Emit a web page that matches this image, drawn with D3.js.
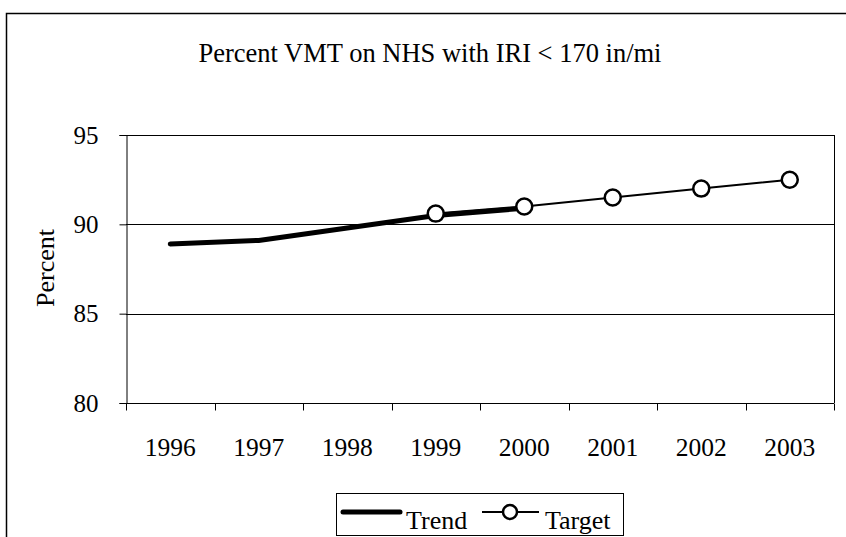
<!DOCTYPE html>
<html>
<head>
<meta charset="utf-8">
<script src="https://cdn.jsdelivr.net/npm/d3@7"></script>
<style>
  body { margin: 0; background: #fff; }
  svg { display: block; }
</style>
</head>
<body>
<script>
const years = ["1996", "1997", "1998", "1999", "2000", "2001", "2002", "2003"];
const trendYears = ["1996", "1997", "1998", "1999", "2000"];
const trendValues = [88.9, 89.1, 89.8, 90.5, 90.9];
const targetYears = ["1999", "2000", "2001", "2002", "2003"];
const targetValues = [90.6, 91.0, 91.5, 92.0, 92.5];
const yTicks = [80, 85, 90, 95];

const serif = "'Liberation Serif', 'Times New Roman', serif";

document.addEventListener("DOMContentLoaded", () => {
  const w = 846;
  const h = 537;

  const svg = d3.select("body")
  .append("svg")
  .attr("width", w)
  .attr("height", h)
  .attr("font-family", serif);

  // outer chart frame (runs past right and bottom edges)
  svg.append("rect")
  .attr("x", 6.5)
  .attr("y", 13.5)
  .attr("width", 900)
  .attr("height", 600)
  .attr("fill", "none")
  .attr("stroke", "#000")
  .attr("stroke-width", 1.5);

  const left = 126, right = 834, top = 135, bottom = 403;

  const x = d3.scaleBand().domain(years).range([left, right]);
  const y = d3.scaleLinear().domain([80, 95]).range([bottom, top]);

  // gridlines
  svg.selectAll("line.grid")
  .data(yTicks.filter(d => d > 80))
  .enter()
  .append("line")
  .attr("class", "grid")
  .attr("x1", left)
  .attr("x2", right)
  .attr("y1", d => Math.round(y(d)) + 0.5)
  .attr("y2", d => Math.round(y(d)) + 0.5)
  .attr("stroke", "#000")
  .attr("stroke-width", 1);

  // plot frame right edge
  svg.append("line")
  .attr("x1", right + 0.5).attr("x2", right + 0.5)
  .attr("y1", top).attr("y2", bottom)
  .attr("stroke", "#000");

  // y axis
  const yAxis = svg.append("g")
  .attr("transform", `translate(${left + 0.5},0)`)
  .call(d3.axisLeft(y).tickValues(yTicks).tickSize(7).tickPadding(21).tickFormat(d3.format("d")));
  yAxis.select(".domain").attr("stroke", "#000");
  yAxis.selectAll(".tick line").attr("stroke", "#000");
  yAxis.selectAll("text")
  .attr("fill", "#000")
  .style("font-family", serif)
  .style("font-size", "25px");

  // x axis: ticks at category boundaries
  const xAxis = svg.append("g")
  .attr("transform", `translate(0,${Math.round(bottom) + 0.5})`);
  xAxis.append("line")
  .attr("x1", left).attr("x2", right)
  .attr("stroke", "#000");
  xAxis.selectAll("line.tk")
  .data(years.concat(["end"]))
  .enter()
  .append("line")
  .attr("class", "tk")
  .attr("x1", (d, i) => Math.round(left + i * x.bandwidth()) + 0.5)
  .attr("x2", (d, i) => Math.round(left + i * x.bandwidth()) + 0.5)
  .attr("y1", 0)
  .attr("y2", 7)
  .attr("stroke", "#000");
  xAxis.selectAll("text")
  .data(years)
  .enter()
  .append("text")
  .attr("x", d => x(d) + x.bandwidth() / 2)
  .attr("y", 52)
  .attr("text-anchor", "middle")
  .attr("font-size", 25.5)
  .text(d => d);

  const line = d3.line()
  .x(d => x(d[0]) + x.bandwidth() / 2)
  .y(d => y(d[1]));

  // trend
  svg.append("path")
  .datum(trendYears.map((d, i) => [d, trendValues[i]]))
  .attr("d", line)
  .attr("fill", "none")
  .attr("stroke", "#000")
  .attr("stroke-width", 5)
  .attr("stroke-linecap", "round");

  // target
  const target = targetYears.map((d, i) => [d, targetValues[i]]);
  svg.append("path")
  .datum(target)
  .attr("d", line)
  .attr("fill", "none")
  .attr("stroke", "#000")
  .attr("stroke-width", 2);

  svg.selectAll("circle.target")
  .data(target)
  .enter()
  .append("circle")
  .attr("class", "target")
  .attr("cx", d => x(d[0]) + x.bandwidth() / 2)
  .attr("cy", d => y(d[1]))
  .attr("r", 8)
  .attr("fill", "#fff")
  .attr("stroke", "#000")
  .attr("stroke-width", 2.5);

  // title
  svg.append("text")
  .attr("x", 430)
  .attr("y", 62)
  .attr("text-anchor", "middle")
  .attr("font-size", 26.5)
  .text("Percent VMT on NHS with IRI < 170 in/mi");

  // y label
  svg.append("text")
  .attr("transform", "translate(54,268) rotate(-90)")
  .attr("text-anchor", "middle")
  .attr("font-size", 26)
  .text("Percent");

  // legend
  const lg = svg.append("g");
  lg.append("rect")
  .attr("x", 336.5)
  .attr("y", 493.5)
  .attr("width", 287)
  .attr("height", 42)
  .attr("fill", "#fff")
  .attr("stroke", "#000")
  .attr("stroke-width", 1);
  lg.append("line")
  .attr("x1", 343).attr("x2", 400)
  .attr("y1", 512).attr("y2", 512)
  .attr("stroke", "#000")
  .attr("stroke-width", 5)
  .attr("stroke-linecap", "round");
  lg.append("text")
  .attr("x", 406).attr("y", 529)
  .attr("font-size", 26)
  .text("Trend");
  lg.append("line")
  .attr("x1", 482).attr("x2", 539)
  .attr("y1", 512).attr("y2", 512)
  .attr("stroke", "#000")
  .attr("stroke-width", 2);
  lg.append("circle")
  .attr("cx", 510).attr("cy", 512)
  .attr("r", 7)
  .attr("fill", "#fff")
  .attr("stroke", "#000")
  .attr("stroke-width", 2.5);
  lg.append("text")
  .attr("x", 545).attr("y", 529)
  .attr("font-size", 26)
  .text("Target");
});
</script>
</body>
</html>
